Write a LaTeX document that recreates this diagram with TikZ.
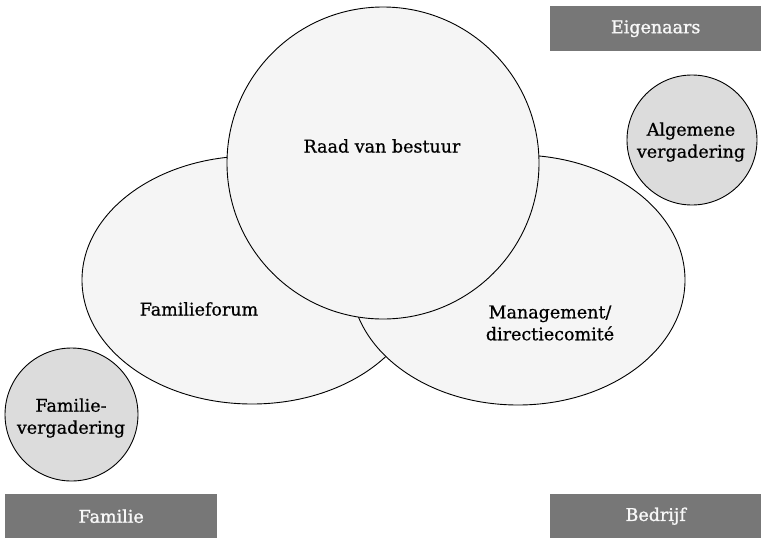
\documentclass[tikz,border=0pt]{standalone}
\usepackage{fontspec}
\setmainfont{DejaVu Serif}
\newfontfamily\diagramfont{DejaVu Serif}[FakeBold=0.7]
\newfontfamily\bandfont{DejaVu Serif}[FakeBold=1.3]
\usetikzlibrary{shapes.geometric}
\definecolor{shapefill}{HTML}{F5F5F5}
\definecolor{smallfill}{HTML}{DCDCDC}
\definecolor{boxfill}{HTML}{777777}
\definecolor{boxtext}{HTML}{F8F8F8}
\tikzset{
  outline/.style={draw=black, line width=0.9pt, inner sep=0pt},
  bigellipse/.style={outline, ellipse, fill=shapefill},
  bigcircle/.style={outline, circle, fill=shapefill},
  smallcircle/.style={outline, circle, fill=smallfill},
  label text/.style={font=\diagramfont\fontsize{17.5}{22}\selectfont, align=center, text=black, inner sep=0pt},
  bandbox/.style={fill=boxfill, inner sep=0pt, anchor=north west},
  band text/.style={font=\bandfont\fontsize{17.5}{22}\selectfont, text=boxtext, inner sep=0pt}
}
\begin{document}
\begin{tikzpicture}[x=1pt, y=-1pt]
  \useasboundingbox (0,0) rectangle (761,539);

  % three overlapping domains
  \node[bigellipse, minimum width=340pt, minimum height=248pt] (forum) at (252,280) {};
  \node[bigellipse, minimum width=334pt, minimum height=250pt] (mgmt) at (518,280) {};
  \node[bigcircle, minimum size=312pt] (raad) at (383,163) {};

  \node[label text] (raadtxt) at (382,146) {Raad van bestuur};
  \node[label text] (forumtxt) at (199,309) {Familieforum};
  \node[label text] (mgmttxt) at (550,323) {Management/\\directiecomité};

  % assemblies
  \node[smallcircle, minimum size=130pt] (alg) at (692,140) {};
  \node[label text] (algtxt) at (691,142) {Algemene\\vergadering};
  \node[smallcircle, minimum size=133pt] (famv) at (71.5,414.5) {};
  \node[label text] (famvtxt) at (71,418) {Familie-\\vergadering};

  % category bands
  \node[bandbox, minimum width=211pt, minimum height=45pt] (eig) at (550,6) {};
  \node[band text] (eigtxt) at (eig.center) {Eigenaars};
  \node[bandbox, minimum width=212pt, minimum height=44pt] (fam) at (5,494) {};
  \node[band text] (famtxt) at (fam.center) {Familie};
  \node[bandbox, minimum width=211pt, minimum height=44pt] (bed) at (550,494) {};
  \node[band text] (bedtxt) at (bed.center) {Bedrijf};
\end{tikzpicture}
\end{document}
